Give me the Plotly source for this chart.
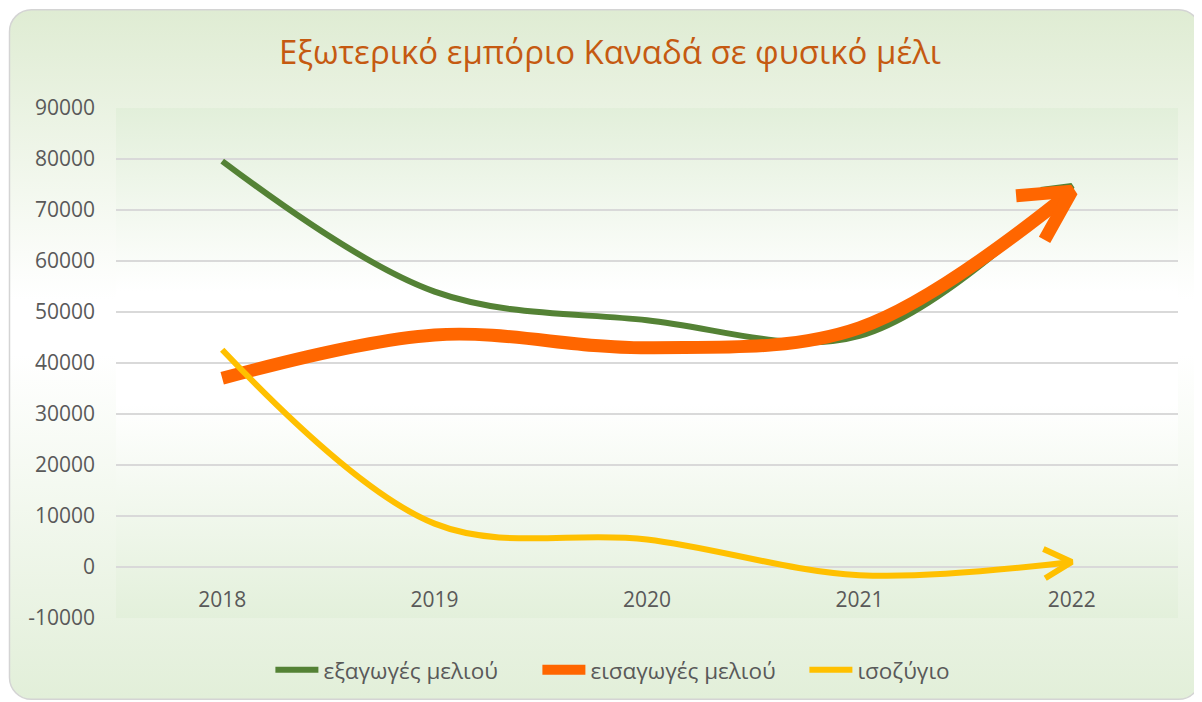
import base64
import math
import plotly.graph_objects as go

# ---------------- data ----------------
years = ["2018", "2019", "2020", "2021", "2022"]
exports = [79600, 54000, 48400, 45300, 74700]   # εξαγωγές μελιού
imports = [37000, 45500, 43000, 46900, 73700]   # εισαγωγές μελιού
balance = [42600, 8500, 5400, -1600, 1000]      # ισοζύγιο
series_names = ["εξαγωγές μελιού", "εισαγωγές μελιού", "ισοζύγιο"]
y_ticks = [-10000, 0, 10000, 20000, 30000, 40000, 50000, 60000, 70000, 80000, 90000]
title_text = "Εξωτερικό εμπόριο Καναδά σε φυσικό μέλι"

# ---------------- style ----------------
colors = ["#548235", "#ff6600", "#ffc000"]
widths = [6, 13, 6]
FONT = "Open Sans"
W, H = 1194, 694          # page adds an 8px body margin
ML, MR, MT, MB = 108, 24, 100, 83
PW, PH = W - ML - MR, H - MT - MB
XR = [-0.5, len(years) - 0.5]
YR = [y_ticks[0], y_ticks[-1]]
sx = PW / (XR[1] - XR[0])
sy = PH / (YR[1] - YR[0])

xs = list(range(len(years)))

fig = go.Figure()

for name, vals, col, w in zip(series_names, [exports, imports, balance], colors, widths):
    fig.add_trace(go.Scatter(
        x=xs, y=vals, name=name, mode="lines",
        line=dict(color=col, width=w, shape="spline", smoothing=1.0),
        legendgroup=name,
    ))
    # open arrow head at the end of the line, oriented along the last segment
    dxp = (xs[-1] - xs[-2]) * sx
    dyp = (vals[-1] - vals[-2]) * sy
    n = math.hypot(dxp, dyp)
    ux, uy = dxp / n, dyp / n
    alen = 5.2 * w if w < 10 else 4.3 * w
    ang = math.radians(28)
    arms = []
    for s in (1, -1):
        rx = -ux * math.cos(ang) - (-uy) * math.sin(s * ang)
        ry = -ux * math.sin(s * ang) + (-uy) * math.cos(ang)
        arms.append((xs[-1] + rx * alen / sx, vals[-1] + ry * alen / sy))
    fig.add_trace(go.Scatter(
        x=[arms[0][0], xs[-1], arms[1][0]],
        y=[arms[0][1], vals[-1], arms[1][1]],
        mode="lines", line=dict(color=col, width=w),
        showlegend=False, legendgroup=name, hoverinfo="skip",
    ))

# ---------------- background (rounded frame + gradients) ----------------
svg = f'''<svg xmlns="http://www.w3.org/2000/svg" width="{W}" height="{H}" viewBox="0 0 {W} {H}" preserveAspectRatio="none">
<defs>
<linearGradient id="g1" x1="0" y1="0" x2="0" y2="1">
<stop offset="0" stop-color="#dfecd3"/><stop offset="0.42" stop-color="#ffffff"/><stop offset="0.5" stop-color="#ffffff"/><stop offset="1" stop-color="#e2efd9"/>
</linearGradient>
<linearGradient id="g2" x1="0" y1="0" x2="0" y2="1">
<stop offset="0" stop-color="#e2efda"/><stop offset="0.36" stop-color="#ffffff"/><stop offset="0.58" stop-color="#ffffff"/><stop offset="1" stop-color="#e3f0db"/>
</linearGradient>
</defs>
<rect x="1.5" y="1.5" width="{W-3}" height="{H-3}" rx="22" ry="22" fill="url(#g1)" stroke="#d4d4d4" stroke-width="1.5"/>
<rect x="{ML}" y="{MT}" width="{PW}" height="{PH}" fill="url(#g2)"/>
</svg>'''
src = "data:image/svg+xml;base64," + base64.b64encode(svg.encode("utf-8")).decode("ascii")

fig.add_layout_image(dict(
    source=src, xref="paper", yref="paper",
    x=-ML / PW, y=1 + MT / PH, sizex=W / PW, sizey=H / PH,
    xanchor="left", yanchor="top", sizing="stretch", layer="below",
))

fig.update_layout(
    width=W, height=H,
    margin=dict(l=ML, r=MR, t=MT, b=MB, pad=0),
    paper_bgcolor="white",
    plot_bgcolor="rgba(0,0,0,0)",
    font=dict(family=FONT, color="#595959", size=21),
    title=dict(text=title_text, x=602 / W, xref="container", xanchor="center",
               y=1 - 44 / H, yref="container", yanchor="middle",
               font=dict(family=FONT, size=33, color="#c55a11")),
    xaxis=dict(range=XR, tickvals=xs, ticktext=years, showgrid=False, zeroline=False,
               showline=False, anchor="free",
               position=(0 - YR[0]) / (YR[1] - YR[0]),
               ticks="outside", ticklen=14, tickcolor="rgba(0,0,0,0)",
               tickfont=dict(size=21, color="#595959", family=FONT), fixedrange=True),
    yaxis=dict(range=YR, tickvals=y_ticks, ticktext=[str(v) for v in y_ticks],
               showgrid=True, gridcolor="#d9d9d9", gridwidth=1.5, zeroline=False,
               showline=False, ticks="", ticklabelstandoff=20,
               tickfont=dict(size=21, color="#595959", family=FONT), fixedrange=True),
    legend=dict(orientation="h", x=0.5225, xanchor="center", y=-0.1, yanchor="middle",
                itemwidth=43, entrywidth=209, entrywidthmode="pixels",
                bgcolor="rgba(0,0,0,0)", font=dict(size=22.5, color="#595959", family=FONT)),
    showlegend=True,
)

fig.write_html("out.html")
